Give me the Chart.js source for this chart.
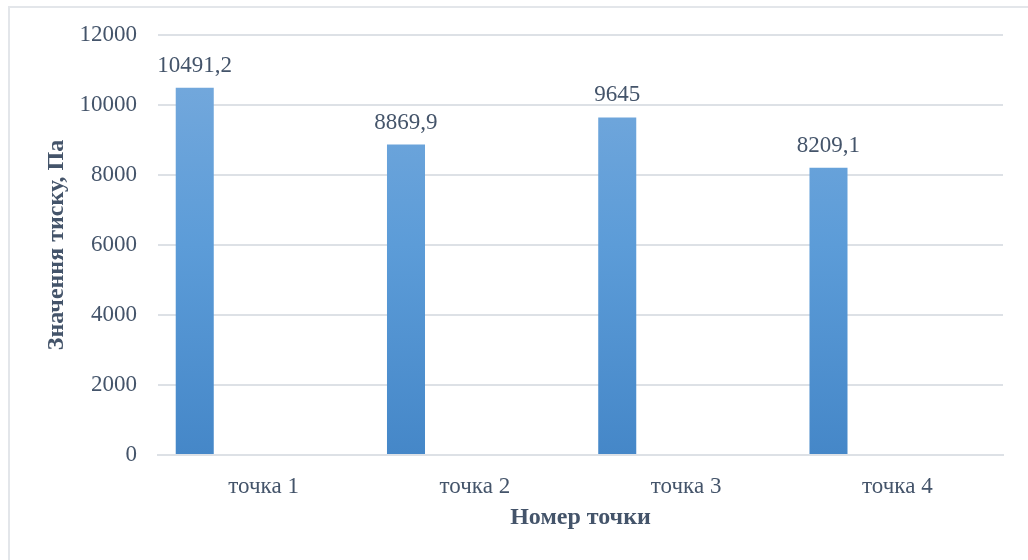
<!DOCTYPE html>
<html>
<head>
<meta charset="utf-8">
<script src="https://cdn.jsdelivr.net/npm/chart.js@4.4.1/dist/chart.umd.min.js"></script>
<style>
  html, body { margin: 0; padding: 0; background: #fff; overflow: hidden; }
  #wrap { position: relative; width: 1028px; height: 560px; }
  #frame { position: absolute; left: 8px; top: 6px; width: 1100px; height: 600px; border: 2px solid #E3E6EA; box-sizing: border-box; }
  canvas { position: absolute; left: 0; top: 0; }
</style>
</head>
<body>
<div id="wrap">
  <div id="frame"></div>
  <canvas id="c" width="1028" height="560"></canvas>
</div>
<script>
const categories = ['точка 1', 'точка 2', 'точка 3', 'точка 4'];
const pressureValues = [10491.2, 8869.9, 9645, 8209.1];
const valueLabels = ['10491,2', '8869,9', '9645', '8209,1'];
const emptySeries = [null, null, null, null];
const yTicks = [0, 2000, 4000, 6000, 8000, 10000, 12000];
const yTickLabels = ['0', '2000', '4000', '6000', '8000', '10000', '12000'];

const textColor = '#44546A';
const gridColor = '#DDE1E6';
const fontFamily = '"Liberation Serif", "Times New Roman", serif';

const valueLabelPlugin = {
  id: 'valueLabels',
  afterDatasetsDraw(chart) {
    const ctx = chart.ctx;
    const meta = chart.getDatasetMeta(0);
    ctx.save();
    ctx.font = '23px ' + fontFamily;
    ctx.fillStyle = textColor;
    ctx.textAlign = 'center';
    ctx.textBaseline = 'alphabetic';
    meta.data.forEach((bar, i) => {
      ctx.fillText(valueLabels[i], bar.x, bar.y - 16);
    });
    ctx.restore();
  }
};

function barGradient(context) {
  const chart = context.chart;
  const area = chart.chartArea;
  if (!area) return '#5B9BD5';
  const g = chart.ctx.createLinearGradient(0, area.top, 0, area.bottom);
  g.addColorStop(0, '#79ABDD');
  g.addColorStop(0.5, '#5C9CD8');
  g.addColorStop(1, '#4587C8');
  return g;
}

new Chart(document.getElementById('c'), {
  type: 'bar',
  data: {
    labels: categories,
    datasets: [
      { data: pressureValues, backgroundColor: barGradient, borderWidth: 0 },
      { data: emptySeries },
      { data: emptySeries },
      { data: emptySeries }
    ]
  },
  options: {
    responsive: false,
    animation: false,
    events: [],
    datasets: { bar: { categoryPercentage: 0.8695, barPercentage: 0.828 } },
    layout: { padding: { left: 36, right: 25, top: 35, bottom: 28 } },
    plugins: {
      legend: { display: false },
      tooltip: { enabled: false },
      title: { display: false }
    },
    scales: {
      x: {
        grid: { display: false, drawTicks: false },
        border: { display: true, color: gridColor, width: 2 },
        ticks: { color: textColor, font: { family: fontFamily, size: 23 }, padding: 18, maxRotation: 0 },
        title: {
          display: true,
          text: 'Номер точки',
          color: textColor,
          font: { family: fontFamily, size: 24, weight: 'bold' },
          padding: { top: 0, bottom: 0 }
        },
        afterFit(s) { s.height = 560 - 28 - 455; }
      },
      y: {
        min: 0,
        max: 12000,
        afterBuildTicks(s) { s.ticks = yTicks.map(v => ({ value: v })); },
        grid: { color: gridColor, lineWidth: 2, drawTicks: false },
        border: { display: false },
        ticks: {
          color: textColor,
          font: { family: fontFamily, size: 23 },
          padding: 21,
          callback: (v, i) => yTickLabels[i]
        },
        title: {
          display: true,
          text: 'Значення тиску, Па',
          color: textColor,
          font: { family: fontFamily, size: 24, weight: 'bold' },
          padding: { top: 6, bottom: 0 }
        },
        afterFit(s) { s.width = 158 - 36; }
      }
    }
  },
  plugins: [valueLabelPlugin]
});
</script>
</body>
</html>
